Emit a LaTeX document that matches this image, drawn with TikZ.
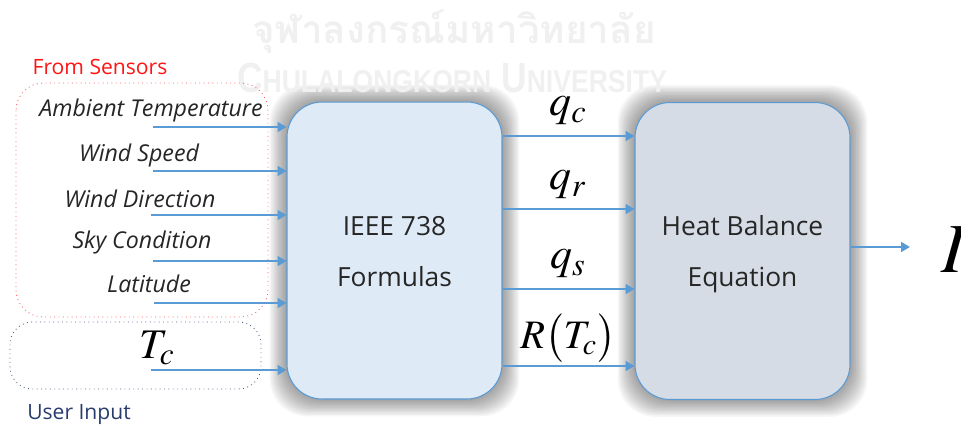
\documentclass[tikz,border=0pt]{standalone}
\usepackage{mathptmx}
\usepackage{fontspec}
\setsansfont{Open Sans}
\newfontfamily\thaifont[Script=Thai]{Loma}
\newfontfamily\markfont{Liberation Sans}
\usetikzlibrary{positioning,arrows.meta,calc,backgrounds}

\definecolor{flow}{RGB}{91,155,213}
\definecolor{ieeefill}{RGB}{222,234,246}
\definecolor{heatfill}{RGB}{214,220,229}
\definecolor{sensred}{RGB}{255,20,20}
\definecolor{usernavy}{RGB}{40,60,110}

\tikzset{
    block/.style = {draw=flow, line width=0.6pt, rounded corners=0.7cm,
        minimum width=4.3cm, minimum height=5.94cm, align=center,
        font=\sffamily\fontsize{15}{29}\selectfont, text=black!85},
    feed/.style = {draw=flow, line width=1.6pt, -{Triangle[length=5pt,width=5.5pt]}},
    sensor/.style = {font=\sffamily\itshape\fontsize{13.2}{15}\selectfont, text=black!85},
    qlabel/.style = {font=\fontsize{25}{27}\selectfont, inner sep=1pt},
    group/.style = {dotted, line width=0.5pt, rounded corners=0.55cm},
}

\begin{document}
\begin{tikzpicture}[x=0.02cm, y=-0.02cm]
    \useasboundingbox (0,0) rectangle (961,427);

    % faint university mark
    \node[text=black!6, font=\thaifont\bfseries\fontsize{22}{22}\selectfont, inner sep=0pt] (markth) at (454,32) {จุฬาลงกรณ์มหาวิทยาลัย};
    \node[text=black!6, font=\markfont\bfseries\fontsize{24}{24}\selectfont, inner sep=0pt] (marken) at (452,78)
        {\scalebox{0.84}[1]{C{\fontsize{18}{18}\selectfont HULALONGKORN} U{\fontsize{18}{18}\selectfont NIVERSITY}}};

    % input groups
    \node[text=sensred, font=\sffamily\fontsize{12}{14}\selectfont] (fromsens) at (100,67) {From Sensors};
    \draw[group, draw=sensred!70] (16,83) rectangle (268,317);
    \draw[group, draw=usernavy!80, rounded corners=0.45cm] (10,322) rectangle (261,389);
    \node[text=usernavy, font=\sffamily\fontsize{12}{14}\selectfont] (userin) at (79,414) {User Input};

    % sensor labels
    \node[sensor] (amb) at (151,110) {Ambient Temperature};
    \node[sensor] (wspd) at (139,155) {Wind Speed};
    \node[sensor] (wdir) at (140,199) {Wind Direction};
    \node[sensor] (sky) at (142,242) {Sky Condition};
    \node[sensor] (lat) at (149,284) {Latitude};
    \node[font=\fontsize{24}{26}\selectfont] (tc) at (157,348) {$T_c$};

    % blocks
    \node[block, fill=ieeefill] (ieee) at (394.5,250.5)
        {\raisebox{-4pt}{\begin{tabular}{@{}c@{}}IEEE 738\\Formulas\end{tabular}}};
    \node[block, fill=heatfill] (heat) at (742.5,251)
        {\raisebox{-4pt}{\begin{tabular}{@{}c@{}}Heat Balance\\Equation\end{tabular}}};

    % soft glow round the blocks
    \begin{scope}[on background layer]
        \foreach \n in {ieee,heat}
            \foreach \g in {1,...,12}
                \fill[black, opacity=0.034, rounded corners=0.75cm]
                    ($(\n.south west)+(-1.4*\g,1.4*\g)$) rectangle ($(\n.north east)+(1.4*\g,-1.4*\g)$);
    \end{scope}

    % input arrows
    \coordinate (ambin) at (153,127);
    \coordinate (wspdin) at (153,171);
    \coordinate (wdirin) at (151,215);
    \coordinate (skyin) at (153,261);
    \coordinate (latin) at (154,303);
    \coordinate (tcin) at (151,370);
    \foreach \c in {ambin,wspdin,wdirin,skyin,latin,tcin}
        \draw[feed] (\c) -- (\c -| ieee.west);

    % block to block
    \coordinate (qcout) at (503,136);
    \coordinate (qrout) at (503,209);
    \coordinate (qsout) at (503,289);
    \coordinate (rout) at (503,366);
    \foreach \c in {qcout,qrout,qsout,rout}
        \draw[feed] (\c) -- (\c -| heat.west);
    \node[qlabel] (qc) at (568,111) {$q_c$};
    \node[qlabel] (qr) at (568,185) {$q_r$};
    \node[qlabel] (qs) at (568,264) {$q_s$};
    \node[qlabel, font=\fontsize{23}{25}\selectfont] (rtc) at (568,338) {$R\bigl(T_c\bigr)$};

    % output
    \node[font=\fontsize{40}{42}\selectfont, anchor=west, inner sep=0pt] (curr) at (941,250) {$I$};
    \coordinate (iout) at (910,247);
    \draw[feed, line width=1.2pt] (heat.east |- iout) -- (iout);
\end{tikzpicture}
\end{document}
